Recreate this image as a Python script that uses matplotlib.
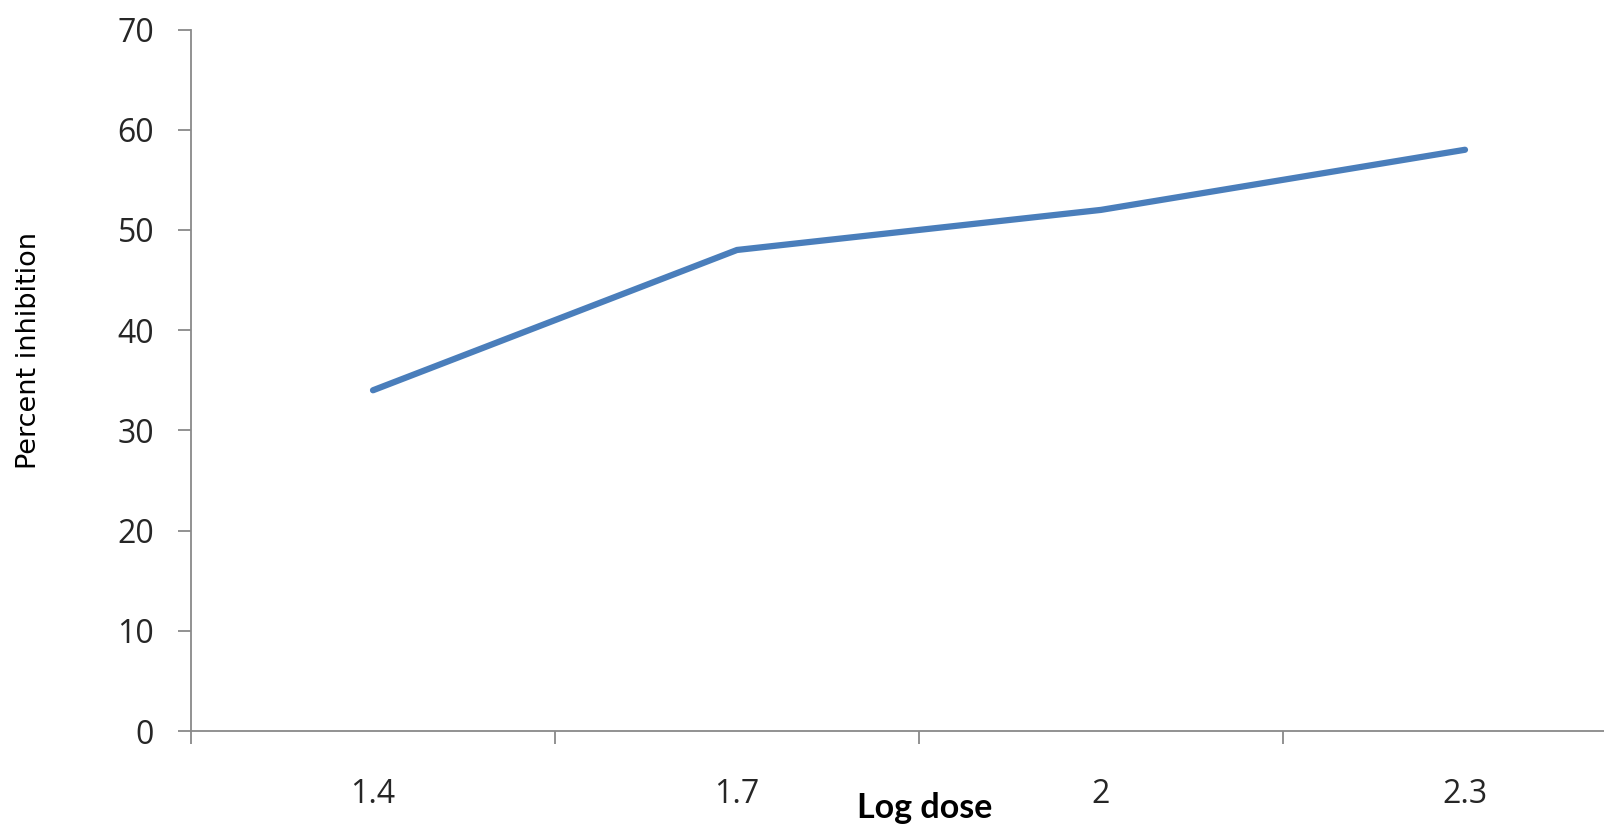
import matplotlib
matplotlib.use("Agg")
import matplotlib.pyplot as plt
from matplotlib.ticker import FixedLocator, NullFormatter

# Dose–response data
log_dose = ["1.4", "1.7", "2", "2.3"]
percent_inhibition = [34, 48, 52, 58]
y_ticks = [0, 10, 20, 30, 40, 50, 60, 70]

AXIS_GREY = "#898989"
TEXT_DARK = "#262626"
LINE_BLUE = "#4A7EBB"

fig = plt.figure(figsize=(16.04, 8.30), dpi=100)
# category axis runs past the right edge of the figure
ax = fig.add_axes([191 / 1604, 99 / 830, (1647 - 191) / 1604, (731 - 29.5) / 830])

xs = list(range(len(log_dose)))
ax.plot(xs, percent_inhibition, color=LINE_BLUE, linewidth=4.5,
        solid_capstyle="round", solid_joinstyle="round", clip_on=False)

ax.set_xlim(-0.5, len(log_dose) - 0.5)
ax.set_ylim(0, 70)

for side in ("top", "right"):
    ax.spines[side].set_visible(False)
for side in ("left", "bottom"):
    ax.spines[side].set_color(AXIS_GREY)
    ax.spines[side].set_linewidth(1.3)

# y axis
ax.set_yticks(y_ticks)
ax.tick_params(axis="y", direction="out", length=9.5, width=1.3, color=AXIS_GREY,
               pad=17, labelsize=23, labelcolor=TEXT_DARK)

# x axis: tick marks between categories, labels centred on categories
ax.xaxis.set_major_locator(FixedLocator([i - 0.5 for i in range(len(log_dose) + 1)]))
ax.xaxis.set_major_formatter(NullFormatter())
ax.xaxis.set_minor_locator(FixedLocator(xs))
ax.set_xticklabels(log_dose, minor=True)
ax.tick_params(axis="x", which="major", direction="out", length=9.5, width=1.3,
               color=AXIS_GREY)
ax.tick_params(axis="x", which="minor", length=0, pad=34, labelsize=23,
               labelcolor=TEXT_DARK)

for lbl in ax.get_xticklabels(minor=True) + ax.get_yticklabels():
    lbl.set_fontfamily("Open Sans")

fig.text(925 / 1604, 1 - 818 / 830, "Log dose", ha="center", va="baseline",
         fontsize=24.5, fontweight="bold", family="Lato", color="#000000")
fig.text(29 / 1604, 1 - 350 / 830, "Percent inhibition", ha="center", va="center",
         rotation=90, fontsize=19.5, family="DejaVu Sans", color="#000000")

fig.savefig("out.png", dpi=100, facecolor="white")
